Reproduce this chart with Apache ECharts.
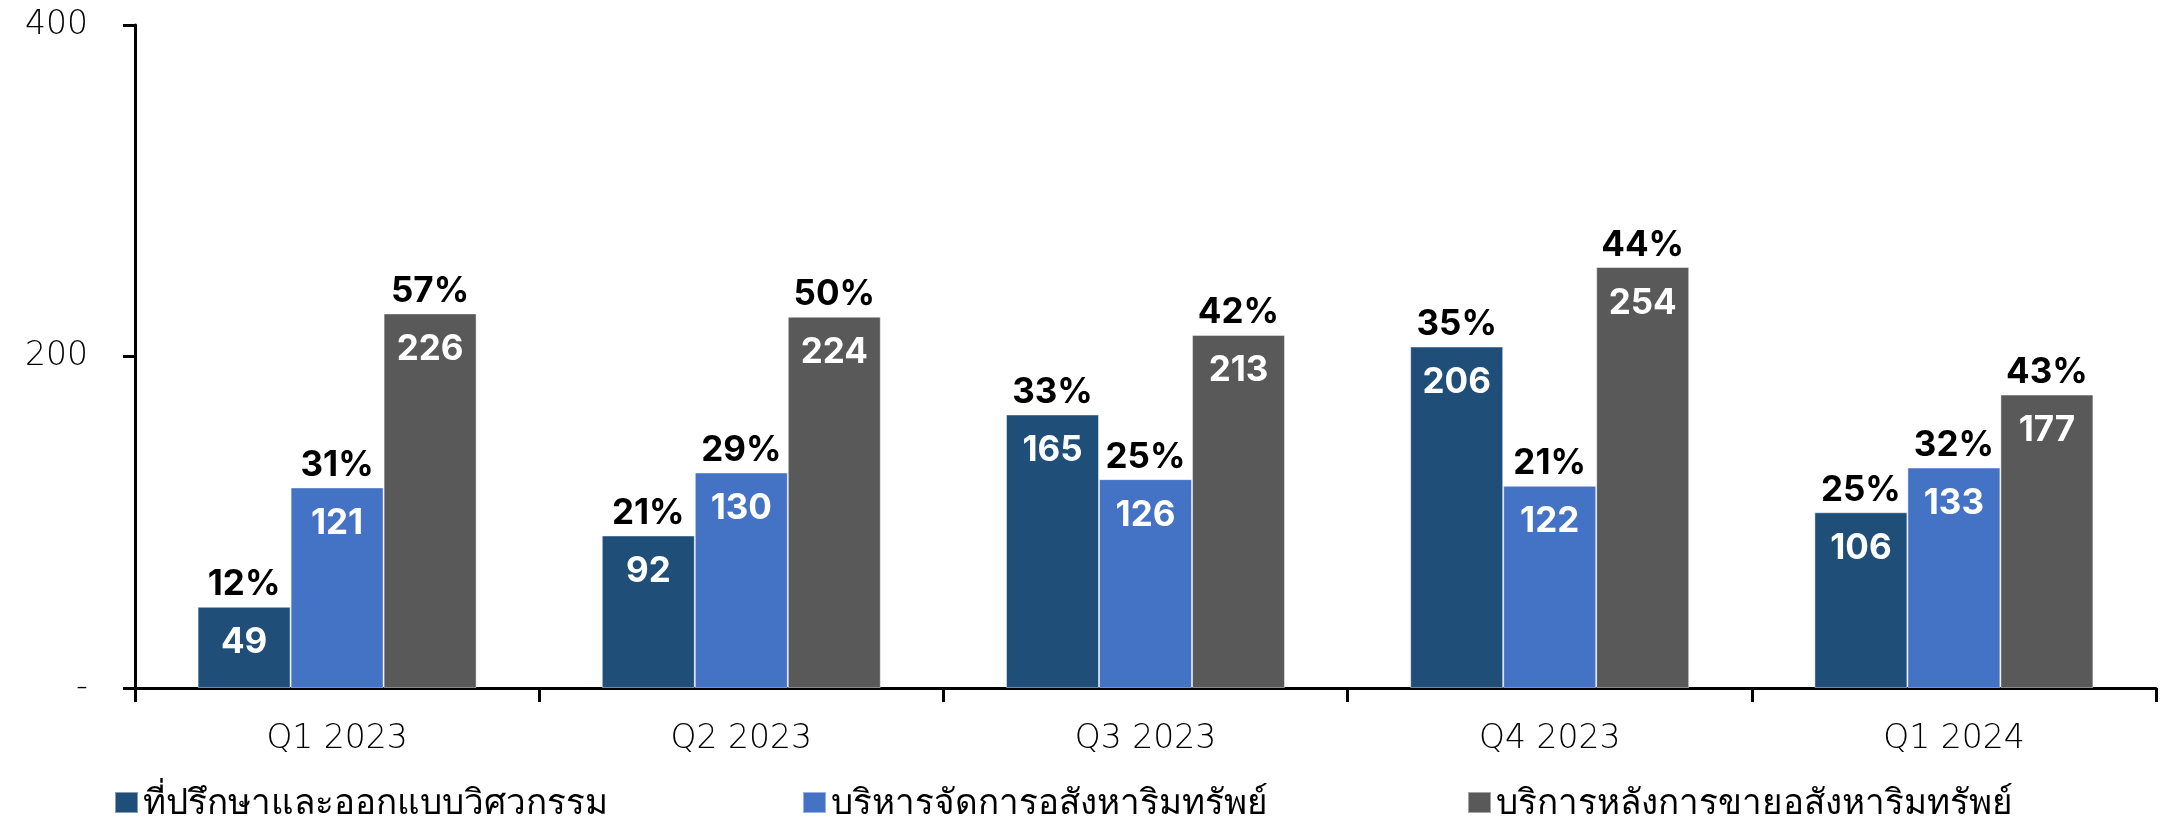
<!DOCTYPE html>
<html>
<head>
<meta charset="utf-8">
<script src="https://cdn.jsdelivr.net/npm/echarts@6/dist/echarts.min.js"></script>
<style>
  html, body { margin: 0; padding: 0; background: #fff; }
  #chart { width: 2162px; height: 821px; }
</style>
</head>
<body>
<div id="chart"></div>
<script>
// ข้อมูลจากกราฟ
const categories = ["Q1 2023", "Q2 2023", "Q3 2023", "Q4 2023", "Q1 2024"];
const seriesNames = ["ที่ปรึกษาและออกแบบวิศวกรรม", "บริหารจัดการอสังหาริมทรัพย์", "บริการหลังการขายอสังหาริมทรัพย์"];
const consultValues = [49, 92, 165, 206, 106];
const manageValues = [121, 130, 126, 122, 133];
const serviceValues = [226, 224, 213, 254, 177];
const consultPct = [12, 21, 33, 35, 25];
const managePct = [31, 29, 25, 21, 32];
const servicePct = [57, 50, 42, 44, 43];
const yTicks = [0, 200, 400];

const colors = ["#1F4E79", "#4472C4", "#595959"];
const numFont = "Inter";
const axisFont = "DejaVu Sans";
const textFont = "Lato";

function makeSeries(idx, values, pct) {
  return {
    name: seriesNames[idx],
    type: "bar",
    barWidth: 93,
    barGap: "0%",
    itemStyle: { color: colors[idx], borderColor: "rgba(255,255,255,0.45)", borderWidth: 1 },
    label: {
      show: true,
      position: "insideTop",
      distance: 0,
      offset: [0, -51],
      formatter: p => "{p|" + pct[p.dataIndex] + "%}\n{v|" + p.value + "}",
      rich: {
        p: { color: "#000", fontFamily: numFont, fontWeight: "bold", fontSize: 35, lineHeight: 58 },
        v: { color: "#fff", fontFamily: numFont, fontWeight: "bold", fontSize: 35, lineHeight: 58 }
      }
    },
    data: values
  };
}

const legendPos = [109, 797, 1462];

let chart = echarts.init(document.getElementById("chart"));
chart.setOption({
  animation: false,
  grid: { left: 135, right: 6, top: 25, bottom: 133, containLabel: false },
  legend: seriesNames.map((n, i) => ({
    data: [n],
    left: legendPos[i],
    top: 780,
    itemWidth: 23,
    itemHeight: 21,
    itemGap: 10,
    icon: "rect",
    textStyle: { fontSize: 35, color: "#000", fontFamily: textFont }
  })),
  xAxis: {
    type: "category",
    data: categories,
    axisLine: { lineStyle: { color: "#000", width: 3 } },
    axisTick: { show: true, length: 14, lineStyle: { color: "#000", width: 3 } },
    axisLabel: { margin: 35, fontSize: 33, color: "#000", fontFamily: axisFont, fontWeight: 200 }
  },
  yAxis: {
    type: "value",
    min: yTicks[0],
    max: yTicks[yTicks.length - 1],
    interval: 200,
    splitLine: { show: false },
    axisLine: { show: true, lineStyle: { color: "#000", width: 3 } },
    axisTick: { show: true, length: 12, lineStyle: { color: "#000", width: 3 } },
    axisLabel: {
      margin: 47,
      fontSize: 33,
      color: "#000",
      fontFamily: axisFont,
      fontWeight: 200,
      formatter: v => v === 0 ? "-" : String(v)
    }
  },
  series: [
    makeSeries(0, consultValues, consultPct),
    makeSeries(1, manageValues, managePct),
    makeSeries(2, serviceValues, servicePct)
  ]
});
window.addEventListener("resize", () => chart.resize());
</script>
</body>
</html>
